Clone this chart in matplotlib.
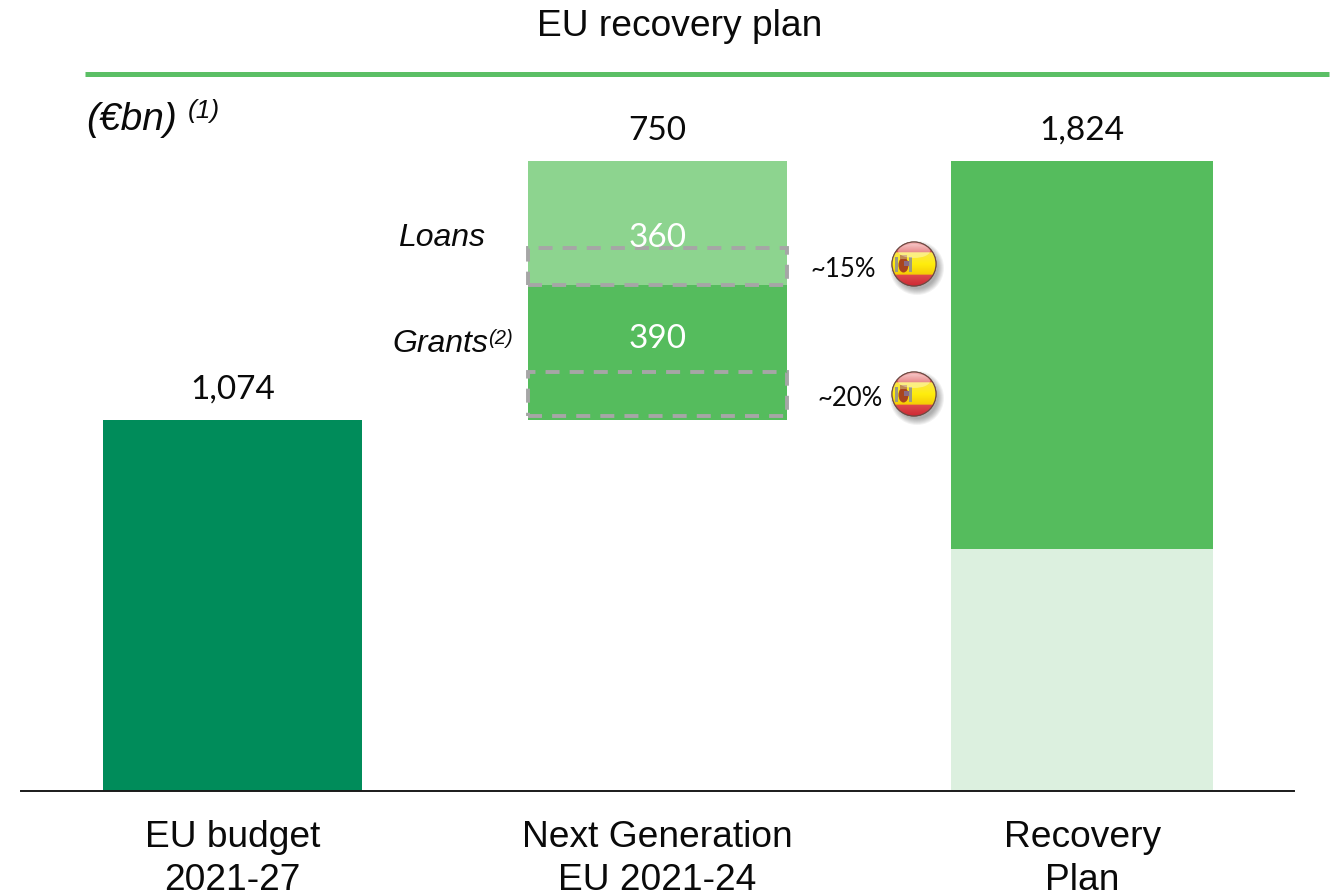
"""
plot.py - EU recovery plan stacked bars with Spain share call-outs.
"""

import matplotlib

matplotlib.use("Agg")
import matplotlib.pyplot as plt  # noqa: E402
import numpy as np
from matplotlib.lines import Line2D
from matplotlib.patches import Circle, Ellipse, Rectangle

W, H = 1330, 895

categories = ["EU budget\n2021-27", "Next Generation\nEU 2021-24", "Recovery\nPlan"]
totals = [1074, 750, 1824]
total_labels = ["1,074", "750", "1,824"]
budget = [1074]
grants = [390]
loans = [360]
recovery_low = [700]
recovery_high = [1124]
spain_loans_box = [107]
spain_grants_box = [127]
spain_labels = ["~15%", "~20%"]

DARK = "#008C5A"
MID = "#55BC5D"
LIGHT = "#8DD48F"
PALE = "#DCF0DF"
DASH = "#A6A6A6"
INK = "#0a0a0a"
ARIAL = "Liberation Sans"
CALIBRI = "Lato"


def draw_flag(ax, cx, cy, r=22):
    # soft shadow, a few stacked translucent discs
    for k in range(7):
        ax.add_patch(Circle((cx + 3, cy + 4), r + 5 - k, color="black", alpha=0.05, lw=0))
    base = Circle((cx, cy), r, fc="#C8222C", ec="#8A5A50", lw=0.8)
    ax.add_patch(base)
    # red / yellow / red with a vertical fade, clipped to the disc
    shade = np.array([[0.96, 0.72, 0.72], [0.86, 0.30, 0.30], [0.98, 0.90, 0.30],
                      [1.0, 0.93, 0.05], [0.96, 0.80, 0.02], [0.88, 0.30, 0.30], [0.80, 0.16, 0.20]])
    ys = np.array([0, 0.23, 0.2301, 0.5, 0.74, 0.7401, 1.0])
    grid = np.linspace(0, 1, 120)
    img = np.stack([np.interp(grid, ys, shade[:, c]) for c in range(3)], axis=1)[:, None, :]
    im = ax.imshow(img, extent=(cx - r, cx + r, cy + r, cy - r), aspect="auto", zorder=3)
    im.set_clip_path(base)
    # coat of arms
    ax.add_patch(Rectangle((cx - 19, cy - 7), 3, 15, fc="#9C9A80", lw=0, zorder=4))
    ax.add_patch(Rectangle((cx - 5, cy - 7), 3, 15, fc="#9C9A80", lw=0, zorder=4))
    ax.add_patch(Ellipse((cx - 10.5, cy + 1), 10, 15, fc="#A8451F", lw=0, zorder=5))
    ax.add_patch(Rectangle((cx - 10, cy - 3), 5, 5, fc="#8A6A85", lw=0, zorder=6))
    ax.add_patch(Rectangle((cx - 14, cy - 9), 7, 3.5, fc="#C08A50", lw=0, zorder=6))
    # gloss on the upper half
    ax.add_patch(Ellipse((cx, cy - 13), 32, 14, fc="white", alpha=0.35, lw=0, zorder=7))
    ax.add_patch(Circle((cx, cy), r, fc="none", ec="#6A4A44", lw=0.8, zorder=8))


fig = plt.figure(figsize=(W / 100, H / 100), dpi=100)
ax = fig.add_axes([21 / W, (H - 792) / H, 1273 / W, 630 / H])

ax.bar([0], budget, width=0.61, color=DARK)
ax.bar([1], grants, width=0.61, bottom=budget, color=MID)
ax.bar([1], loans, width=0.61, bottom=budget[0] + grants[0], color=LIGHT)
ax.bar([2], recovery_low, width=0.617, color=PALE)
ax.bar([2], recovery_high, width=0.617, bottom=recovery_low, color=MID)

# Spain share boxes
box_style = dict(width=0.61, color="none", edgecolor=DASH, linewidth=2.8, linestyle=(0, (3.6, 2.6)), clip_on=False)
ax.bar([1], spain_loans_box, bottom=budget[0] + grants[0], **box_style)
ax.bar([1], spain_grants_box, bottom=budget[0] + 12, **box_style)

ax.set_xlim(-0.4985, 2.4985)
ax.set_ylim(0, 1824)
ax.set_yticks([])
for side in ("top", "left", "right"):
    ax.spines[side].set_visible(False)
ax.spines["bottom"].set_linewidth(1.4)
ax.spines["bottom"].set_color("#1a1a1a")
ax.set_xticks(range(3))
ax.set_xticklabels(categories, fontsize=26.7, family=ARIAL, color=INK, linespacing=1.3)
ax.tick_params(axis="x", length=0, pad=20)

tops = [budget[0], recovery_low[0] + recovery_high[0], recovery_low[0] + recovery_high[0]]
for i, label in enumerate(total_labels):
    ax.text(i, tops[i] + 90, label, ha="center", va="center", fontsize=24, family=CALIBRI, color=INK)
ax.text(1, budget[0] + grants[0] + 0.385 * loans[0], str(loans[0]), ha="center", va="center",
        fontsize=24, family=CALIBRI, color="white")
ax.text(1, budget[0] + 0.61 * grants[0], str(grants[0]), ha="center", va="center",
        fontsize=24, family=CALIBRI, color="white")

# overlay in image pixels for the annotations
over = fig.add_axes([0, 0, 1, 1])
over.set_xlim(0, W)
over.set_ylim(H, 0)
over.axis("off")
over.patch.set_alpha(0)

fig.add_artist(Line2D([85 / W, 1329 / W], [(H - 74.5) / H] * 2, color="#5BBF65", lw=3.6, solid_capstyle="butt"))
over.text(680, 26, "EU recovery plan", ha="center", va="center", fontsize=26.7, family=ARIAL, color=INK)
over.text(86, 120, "(€bn)", ha="left", va="center", fontsize=28, family=ARIAL, style="italic", color=INK)
over.text(188, 111, "(1)", ha="left", va="center", fontsize=19, family=ARIAL, style="italic", color=INK)
over.text(398, 238, "Loans", ha="left", va="center", fontsize=23, family=ARIAL, style="italic", color=INK)
over.text(392, 344, "Grants", ha="left", va="center", fontsize=23, family=ARIAL, style="italic", color=INK)
over.text(488, 338, "(2)", ha="left", va="center", fontsize=14.5, family=ARIAL, style="italic", color=INK)
over.text(843, 269, spain_labels[0], ha="center", va="center", fontsize=18.5, family=CALIBRI, color=INK)
over.text(850, 398, spain_labels[1], ha="center", va="center", fontsize=18.5, family=CALIBRI, color=INK)
draw_flag(over, 914, 265)
draw_flag(over, 914, 395)
over.set_xlim(0, W)
over.set_ylim(H, 0)

fig.savefig("out.png", dpi=100)
plt.close(fig)
